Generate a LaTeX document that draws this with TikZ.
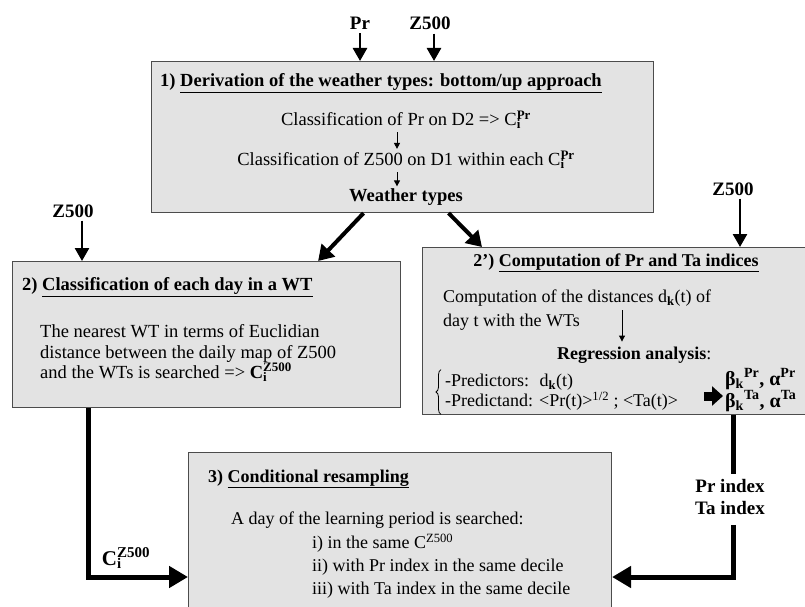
\documentclass[tikz,border=0pt]{standalone}
\usepackage{fontspec}
\setmainfont{Liberation Serif}
\usetikzlibrary{arrows.meta,positioning,decorations.pathreplacing}
\newcommand\subsup[2]{\rlap{\textsubscript{#1}}\textsuperscript{#2}}

\begin{document}
\begin{tikzpicture}[x=1pt, y=-1pt,
  panel/.style={rectangle, draw=black!70, fill=black!11, line width=1.1pt,
    anchor=north west, inner sep=0pt},
  txt/.style={inner sep=0pt, align=left, font=\fontsize{18.5}{20}\selectfont},
  btxt/.style={txt, font=\fontsize{18.5}{20}\selectfont\bfseries},
  stxt/.style={txt, font=\fontsize{18}{20}\selectfont},
  sbtxt/.style={txt, font=\fontsize{18}{20}\selectfont\bfseries},
  lbl/.style={inner sep=0pt, align=center, font=\fontsize{19}{22}\selectfont\bfseries},
  inarr/.style={-{Triangle[length=13pt,width=14pt]}, line width=2.6pt},
  thinarr/.style={-{Triangle[length=6pt,width=6pt]}, line width=0.9pt},
  arr/.style={-{Triangle[length=15pt,width=18pt]}, line width=4pt},
  bigarr/.style={-{Triangle[length=19pt,width=21pt]}, line width=5pt},
  fatarr/.style={-{Triangle[length=11pt,width=19pt]}, line width=9pt}
]
\useasboundingbox (0,0) rectangle (805,607);
\clip (0,0) rectangle (805,607);

\node[panel, minimum width=502pt, minimum height=151pt] (wt) at (151,61) {};
\node[panel, minimum width=388pt, minimum height=146pt] (cls) at (12,261) {};
\node[panel, minimum width=400pt, minimum height=167pt] (idx) at (422,247) {};
\node[panel, minimum width=423pt, minimum height=200pt] (res) at (188,452) {};

\node[lbl] (pr) at (360,23) {Pr};
\node[lbl] (zwt) at (430,23) {Z500};
\node[lbl] (zcls) at (73,211) {Z500};
\node[lbl] (zidx) at (733,189) {Z500};
\draw[inarr, shorten <=4pt] (pr) -- (pr |- wt.north);
\draw[inarr, shorten <=4pt] ([xshift=4pt]zwt.south) -- ([xshift=4pt]zwt |- wt.north);
\draw[inarr, shorten <=3pt] ([xshift=9pt]zcls.south) -- ([xshift=9pt]zcls |- cls.north);
\draw[inarr, shorten <=3pt] ([xshift=7pt]zidx.south) -- ([xshift=7pt]zidx |- idx.north);

\node[btxt, anchor=west] (h1) at (160,83) {1) \underline{Derivation of the weather types: bottom/up approach}};
\node[txt] (l1) at (406,120) {Classification of Pr on D2 => C\subsup{\textbf{i}}{\textbf{Pr}}};
\node[txt] (l2) at (406,160) {Classification of Z500 on D1 within each C\subsup{\textbf{i}}{\textbf{Pr}}};
\node[btxt] (wtypes) at (406,197) {Weather types};
\draw[thinarr, shorten <=3pt, shorten >=2pt] ([xshift=-9pt]l1.south) -- ([xshift=-9pt]l1.south |- l2.north);
\draw[thinarr, shorten <=3pt, shorten >=2pt] ([xshift=-9pt]l2.south) -- ([xshift=-9pt]l2.south |- wtypes.north);

\node[btxt, anchor=west] (h2) at (22,287) {2) \underline{Classification of each day in a WT}};
\node[txt, anchor=west] (t2) at (40,353) {The nearest WT in terms of Euclidian\\distance between the daily map of Z500\\and the WTs is searched => \textbf{C\subsup{i}{Z500}}};

\node[sbtxt] (h3) at (616,263) {2’) \underline{Computation of Pr and Ta indices}};
\node[stxt, anchor=west, font=\fontsize{18}{24}\selectfont] (t3) at (443,310) {Computation of the distances d\textsubscript{\textbf{k}}(t) of\\day t with the WTs};
\node[sbtxt, anchor=west] (reg) at (557,355) {Regression analysis\textmd{:}};
\draw[thinarr, shorten >=5pt] (622,0 |- t3.center) -- (622,0 |- reg.north);
\node[stxt, anchor=west] (preds) at (445,392) {-Predictors:~ d\textsubscript{\textbf{k}}(t)\\-Predictand: <Pr(t)>\textsuperscript{1/2} ; <Ta(t)>};
\draw[decorate, decoration={brace, amplitude=5pt}, line width=0.8pt] ([shift={(-4pt,-4pt)}]preds.south west) -- ([shift={(-4pt,4pt)}]preds.north west);
\node[sbtxt, anchor=west, font=\fontsize{20}{19}\selectfont\bfseries] (beta) at (725,390) {β\textsubscript{k}\textsuperscript{Pr}, α\textsuperscript{Pr}\\β\textsubscript{k}\textsuperscript{Ta}, α\textsuperscript{Ta}};
\draw[fatarr] ([shift={(-21pt,-6pt)}]beta.west) -- ([shift={(-2pt,-6pt)}]beta.west);

\node[sbtxt, anchor=west] (h4) at (208,479) {3) \underline{Conditional resampling}};
\node[stxt, anchor=west] (t4) at (231,520) {A day of the learning period is searched:};
\node[stxt, anchor=west, font=\fontsize{18}{23}\selectfont] (crit) at (312,566) {i) in the same C\textsuperscript{Z500}\\ii) with Pr index in the same decile\\iii) with Ta index in the same decile};

\draw[arr] ([xshift=-39pt]wt.south) -- ([xshift=-83pt]cls.north east);
\draw[arr] ([xshift=46pt]wt.south) -- ([xshift=60pt]idx.north west);

\node[lbl, font=\fontsize{21}{22}\selectfont\bfseries] (cz) at (126,558) {C\subsup{i}{\fontsize{15}{16}\selectfont Z500}};
\draw[bigarr] ([xshift=76pt]cls.south west) |- ([yshift=-125pt]res.north west);
\node[lbl] (prta) at (730,497) {Pr index\\Ta index};
\draw[line width=5pt, shorten >=5pt] (733,0 |- idx.south) -- (733,0 |- prta.north);
\draw[bigarr, shorten <=10pt] (733,0 |- prta.south) |- ([yshift=-125pt]res.north east);
\end{tikzpicture}
\end{document}
